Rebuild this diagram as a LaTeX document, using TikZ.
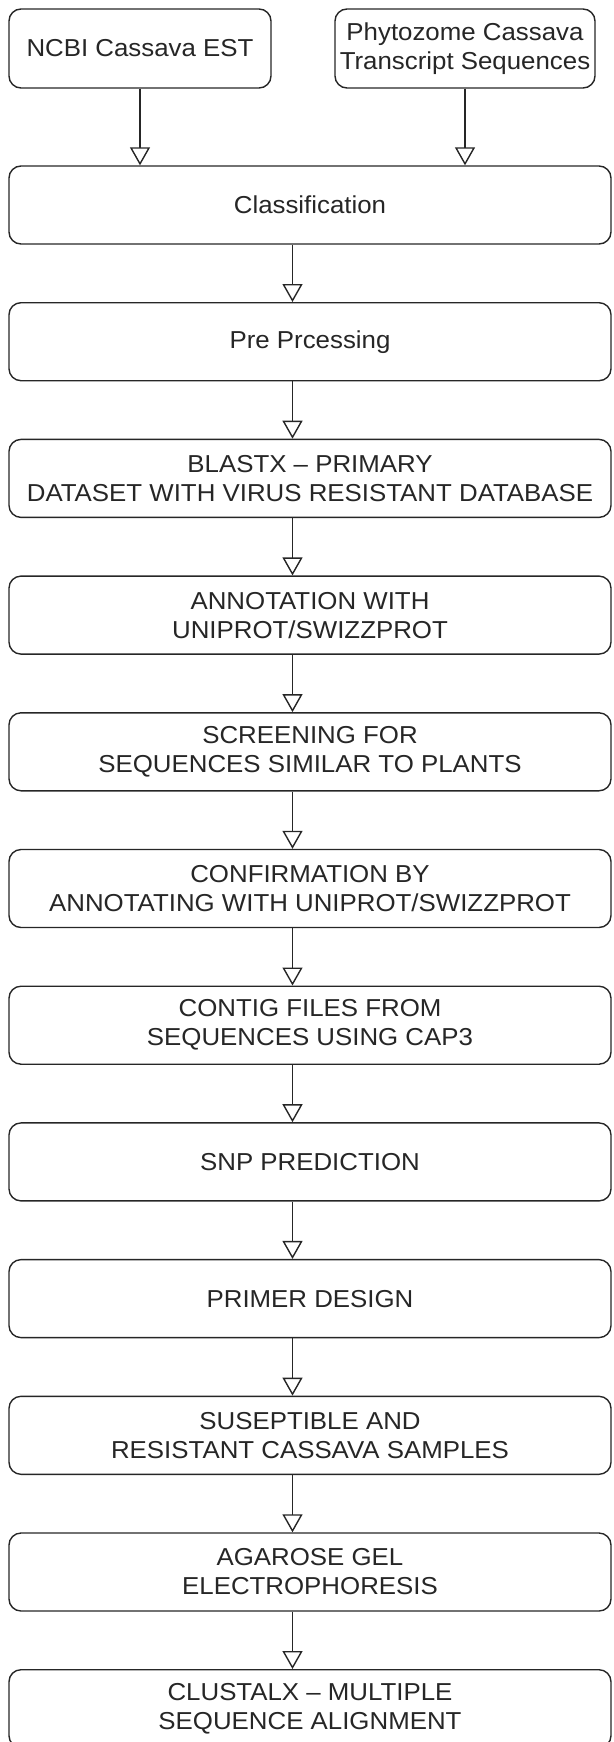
\documentclass[tikz,border=0pt]{standalone}
\usepackage{fontspec}
\setmainfont{Liberation Sans}[FakeStretch=1.055]
\usetikzlibrary{arrows.meta}
\begin{document}
\begin{tikzpicture}[x=1pt,y=1pt,
  box/.style={draw=black!85, line width=1.4pt, rounded corners=12pt, align=center,
    inner sep=0pt, minimum width=602pt, minimum height=78pt, text=black!85,
    font=\fontsize{24.5}{29}\selectfont},
  topbox/.style={box, minimum height=79pt},
  arr/.style={draw=black!85, line width=1.4pt,
    -{Triangle[open, width=20pt, length=18pt, line width=1.4pt]}}]
\useasboundingbox (0,0) rectangle (613,-1742);
\clip (0,0) rectangle (613,-1742);
% top sources
\node[topbox, minimum width=262pt] (ncbi) at (140,-48.5) {NCBI Cassava EST};
\node[topbox, minimum width=260pt] (phy) at (465,-48.5) {Phytozome Cassava\\Transcript Sequences};
% main chain
\node[box] (b0) at (310,-205.0) {Classification};
\node[box] (b1) at (310,-341.7) {Pre Prcessing};
\node[box] (b2) at (310,-478.4) {BLASTX – PRIMARY\\DATASET WITH VIRUS RESISTANT DATABASE};
\node[box] (b3) at (310,-615.1) {ANNOTATION WITH\\UNIPROT/SWIZZPROT};
\node[box] (b4) at (310,-751.8) {SCREENING FOR\\SEQUENCES SIMILAR TO PLANTS};
\node[box] (b5) at (310,-888.5) {CONFIRMATION BY\\ANNOTATING WITH UNIPROT/SWIZZPROT};
\node[box] (b6) at (310,-1025.2) {CONTIG FILES FROM\\SEQUENCES USING CAP3};
\node[box] (b7) at (310,-1161.9) {SNP PREDICTION};
\node[box] (b8) at (310,-1298.6) {PRIMER DESIGN};
\node[box] (b9) at (310,-1435.3) {SUSEPTIBLE AND\\RESISTANT CASSAVA SAMPLES};
\node[box] (b10) at (310,-1572.0) {AGAROSE GEL\\ELECTROPHORESIS};
\node[box] (b11) at (310,-1708.7) {CLUSTALX – MULTIPLE\\SEQUENCE ALIGNMENT};
% connectors
\draw[arr] (ncbi.south) -- (ncbi.south |- b0.north);
\draw[arr] (phy.south) -- (phy.south |- b0.north);
\foreach \a/\b in {b0/b1,b1/b2,b2/b3,b3/b4,b4/b5,b5/b6,b6/b7,b7/b8,b8/b9,b9/b10,b10/b11}
  \draw[arr] ([xshift=-17.5pt]\a.south) -- ([xshift=-17.5pt]\b.north);
\end{tikzpicture}
\end{document}
